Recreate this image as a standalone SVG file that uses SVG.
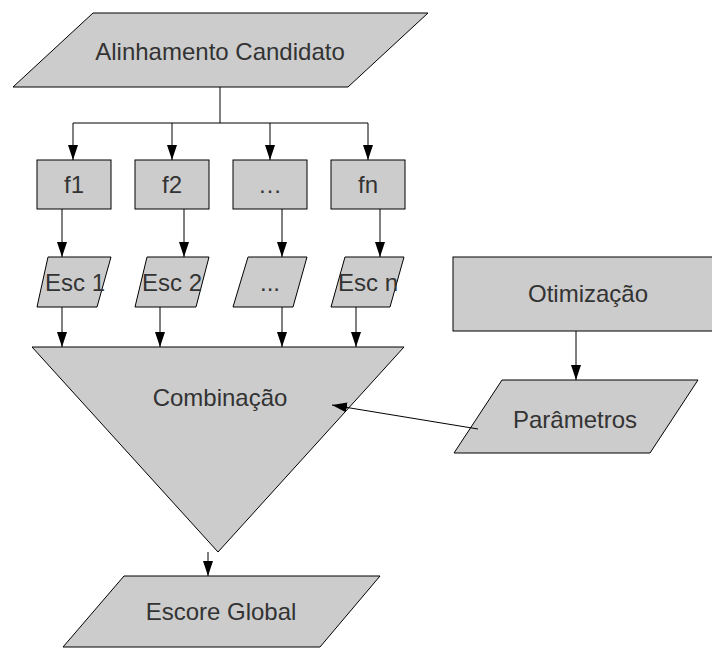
<svg xmlns="http://www.w3.org/2000/svg" width="712" height="648" viewBox="0 0 712 648">
<style>
.shape{fill:#cccccc;stroke:#000000;stroke-width:1}
.lbl{font-family:"Liberation Sans",Arial,sans-serif;font-size:24px;fill:#333333;text-anchor:middle}
.conn{fill:none;stroke:#000000;stroke-width:1}
.arr{marker-end:url(#ah)}
</style>
<defs>
<marker id="ah" markerWidth="15" markerHeight="10" refX="15" refY="5" orient="auto" markerUnits="userSpaceOnUse" viewBox="0 0 15 10">
<path d="M0,0 L15,5 L0,10 Z" fill="#000000"/>
</marker>
</defs>
<rect width="712" height="648" fill="#ffffff"/>
<g id="alinhamento">
<polygon class="shape" points="93,13 428,13 348,87 13,87"/>
<text class="lbl" x="220" y="60">Alinhamento Candidato</text>
</g>
<g id="f1"><rect class="shape" x="37" y="160" width="74" height="49"/><text class="lbl" x="74" y="193">f1</text></g>
<g id="f2"><rect class="shape" x="135" y="160" width="74" height="49"/><text class="lbl" x="172" y="193">f2</text></g>
<g id="f3"><rect class="shape" x="233" y="160" width="74" height="49"/><text class="lbl" x="270" y="193">…</text></g>
<g id="fn"><rect class="shape" x="331" y="160" width="74" height="49"/><text class="lbl" x="368" y="193">fn</text></g>
<g id="esc1"><polygon class="shape" points="48,257 111,257 97,307 37,307"/><text class="lbl" x="75" y="291">Esc 1</text></g>
<g id="esc2"><polygon class="shape" points="147,257 209,257 196,307 135,307"/><text class="lbl" x="172" y="291">Esc 2</text></g>
<g id="esc3"><polygon class="shape" points="248,257 307,257 293,307 233,307"/><text class="lbl" x="270" y="291">...</text></g>
<g id="escn"><polygon class="shape" points="345,257 404,257 390,307 331,307"/><text class="lbl" x="368" y="291">Esc n</text></g>
<g id="combinacao"><polygon class="shape" points="32,347 404,347 218,552"/><text class="lbl" x="220" y="406">Combinação</text></g>
<g id="otimizacao"><rect class="shape" x="453" y="257" width="270" height="74"/><text class="lbl" x="588" y="302">Otimização</text></g>
<g id="parametros"><polygon class="shape" points="502,380 698,380 650,453 454,453"/><text class="lbl" x="575" y="428">Parâmetros</text></g>
<g id="escore"><polygon class="shape" points="124,576 380,576 320,647 63,647"/><text class="lbl" x="221" y="620">Escore Global</text></g>
<g id="connectors">
<path class="conn" d="M220,87 V123 M73,123 H368"/>
<path class="conn arr" d="M73,123 V160"/>
<path class="conn arr" d="M172,123 V160"/>
<path class="conn arr" d="M270,123 V160"/>
<path class="conn arr" d="M368,123 V160"/>
<path class="conn arr" d="M62,209 V257"/>
<path class="conn arr" d="M184,209 V257"/>
<path class="conn arr" d="M282,209 V257"/>
<path class="conn arr" d="M380,209 V257"/>
<path class="conn arr" d="M62,307 V347"/>
<path class="conn arr" d="M160,307 V347"/>
<path class="conn arr" d="M282,307 V347"/>
<path class="conn arr" d="M356,307 V347"/>
<path class="conn arr" d="M576,331 V380"/>
<path class="conn arr" d="M478,429 L332,405"/>
<path class="conn arr" d="M208,552 V576"/>
</g>
</svg>
